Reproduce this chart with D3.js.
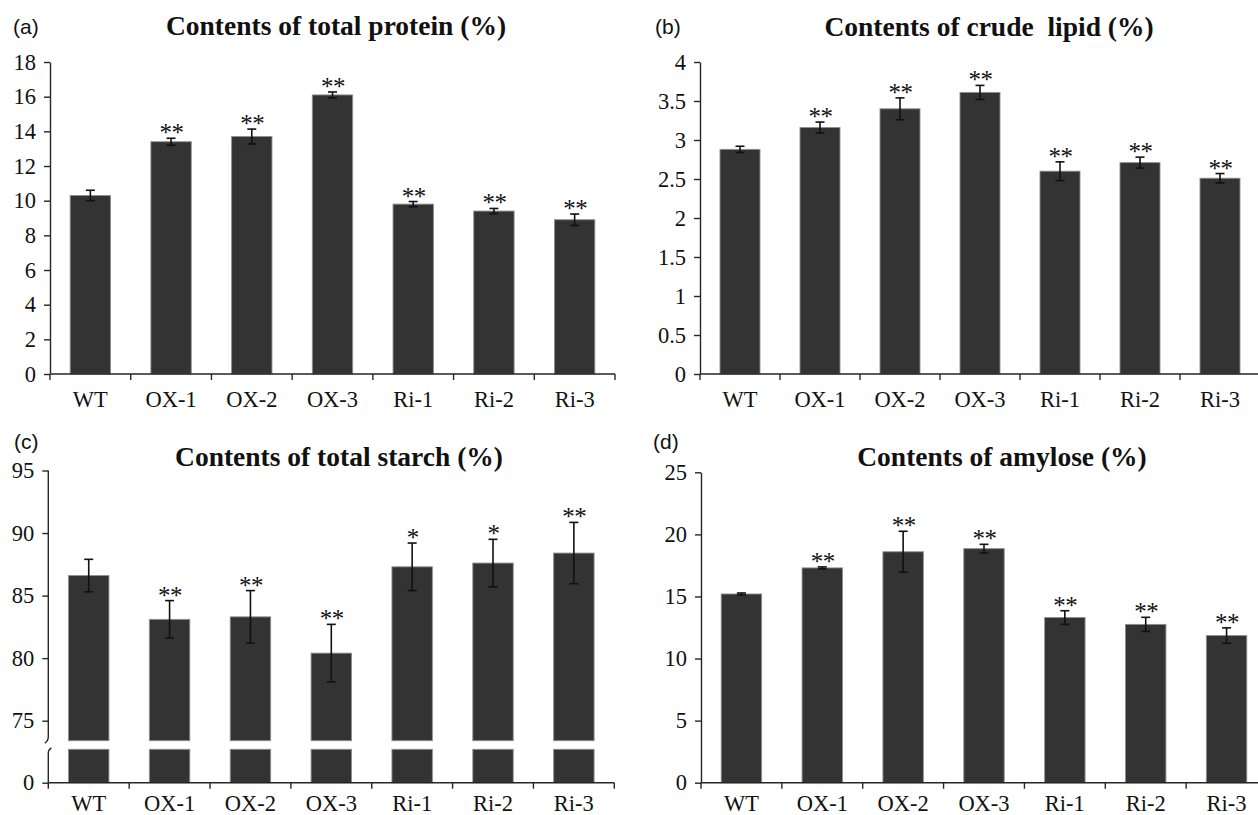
<!DOCTYPE html>
<html>
<head>
<meta charset="utf-8">
<script src="https://cdn.jsdelivr.net/npm/d3@7"></script>
<style>
  body { margin: 0; background: #ffffff; }
  svg text { font-family: "Liberation Serif", "Times New Roman", serif; fill: #111; }
  svg text.panel-tag { font-family: "Liberation Sans", Arial, sans-serif; }
</style>
</head>
<body>
<svg id="fig" width="1258" height="815"></svg>
<script>
// Lines: wild type, over-expression and RNAi lines
const categories = ["WT", "OX-1", "OX-2", "OX-3", "Ri-1", "Ri-2", "Ri-3"];

// (a) total protein (%)
const proteinMean = [10.3, 13.4, 13.7, 16.1, 9.8, 9.4, 8.9];
const proteinErr  = [0.3, 0.2, 0.43, 0.17, 0.15, 0.15, 0.33];
const proteinSig  = ["", "**", "**", "**", "**", "**", "**"];
const proteinTicks = [0, 2, 4, 6, 8, 10, 12, 14, 16, 18];

// (b) crude lipid (%)
const lipidMean = [2.88, 3.16, 3.40, 3.61, 2.60, 2.71, 2.51];
const lipidErr  = [0.04, 0.07, 0.14, 0.09, 0.12, 0.07, 0.06];
const lipidSig  = ["", "**", "**", "**", "**", "**", "**"];
const lipidTicks = [0, 0.5, 1, 1.5, 2, 2.5, 3, 3.5, 4];

// (c) total starch (%), broken axis
const starchMean = [86.6, 83.1, 83.3, 80.4, 87.3, 87.6, 88.4];
const starchErr  = [1.3, 1.5, 2.1, 2.3, 1.9, 1.9, 2.45];
const starchSig  = ["", "**", "**", "**", "*", "*", "**"];
const starchTicks = [75, 80, 85, 90, 95];
const starchLowTicks = [0];

// (d) amylose (%)
const amyloseMean = [15.2, 17.3, 18.6, 18.85, 13.3, 12.75, 11.85];
const amyloseErr  = [0.08, 0.08, 1.65, 0.35, 0.55, 0.57, 0.62];
const amyloseSig  = ["", "**", "**", "**", "**", "**", "**"];
const amyloseTicks = [0, 5, 10, 15, 20, 25];

const svg = d3.select("#fig");
const SERIF = '"Liberation Serif", "Times New Roman", serif';
const SANS = '"Liberation Sans", Arial, sans-serif';
const BAR = "#333333", BAR_EDGE = "#8e8e8e", AXIS = "#262626", ERR = "#111111";
const TICK_FONT = 22.5, TITLE_FONT = 27.5, STAR_FONT = 25;

function bandScale(x0, x1) {
  return d3.scaleBand().domain(categories).range([x0, x1]).paddingInner(0.5).paddingOuter(0.25);
}

function xAxis(g, x, y0, x0, x1, labelDy) {
  g.append("line").attr("x1", x0).attr("x2", x1).attr("y1", y0).attr("y2", y0)
    .attr("stroke", AXIS).attr("stroke-width", 1.4);
  const step = x.step();
  g.selectAll(null).data(d3.range(categories.length + 1)).join("line")
    .attr("x1", i => x0 + i * step).attr("x2", i => x0 + i * step)
    .attr("y1", y0).attr("y2", y0 + 6)
    .attr("stroke", AXIS).attr("stroke-width", 1.4);
  g.selectAll(null).data(categories).join("text")
    .attr("x", d => x(d) + x.bandwidth() / 2).attr("y", y0 + labelDy)
    .attr("text-anchor", "middle").style("font-family", SERIF)
    .style("font-size", TICK_FONT + "px").text(d => d);
}

function yAxis(g, y, x0, ticks, withDomain) {
  const ax = g.append("g").attr("transform", `translate(${x0},0)`)
    .call(d3.axisLeft(y).tickValues(ticks).tickSize(6).tickSizeOuter(0).tickPadding(8)
      .tickFormat(d => String(d)));
  ax.attr("font-family", null).attr("font-size", null);
  ax.select(".domain").attr("stroke", AXIS).attr("stroke-width", 1.4)
    .style("display", withDomain ? null : "none");
  ax.selectAll(".tick line").attr("stroke", AXIS).attr("stroke-width", 1.4);
  ax.selectAll(".tick text").attr("fill", "#111")
    .style("font-family", SERIF).style("font-size", TICK_FONT + "px");
  return ax;
}

function errorBars(g, x, y, mean, err, sig) {
  const cx = d => x(d) + x.bandwidth() / 2;
  const rows = categories.map((c, i) => ({ c, m: mean[i], e: err[i], s: sig[i] }));
  const eg = g.append("g").attr("stroke", ERR).attr("stroke-width", 1.6);
  eg.selectAll(null).data(rows).join("line")
    .attr("x1", d => cx(d.c)).attr("x2", d => cx(d.c))
    .attr("y1", d => y(d.m - d.e)).attr("y2", d => y(d.m + d.e));
  eg.selectAll(null).data(rows.flatMap(d => [
      { c: d.c, v: d.m - d.e }, { c: d.c, v: d.m + d.e }])).join("line")
    .attr("x1", d => cx(d.c) - 4.5).attr("x2", d => cx(d.c) + 4.5)
    .attr("y1", d => y(d.v)).attr("y2", d => y(d.v));
  g.selectAll(null).data(rows.filter(d => d.s)).join("text")
    .attr("x", d => cx(d.c) + 0.5).attr("y", d => y(d.m + d.e) + 3)
    .attr("text-anchor", "middle").style("font-family", SERIF)
    .style("font-size", STAR_FONT + "px").style("letter-spacing", "-0.5px").text(d => d.s);
}

function titles(g, tag, tagX, tagY, title, cx, ty) {
  g.append("text").attr("class", "panel-tag").attr("x", tagX).attr("y", tagY)
    .style("font-family", SANS).style("font-size", "21px").text(tag);
  g.append("text").attr("x", cx).attr("y", ty).attr("text-anchor", "middle")
    .style("font-family", SERIF).style("font-size", TITLE_FONT + "px")
    .style("font-weight", "bold").style("white-space", "pre").text(title);
}

// Plain panel with axis starting at zero
function simplePanel(o) {
  const g = svg.append("g");
  const x = bandScale(o.x0, o.x1);
  const y = d3.scaleLinear().domain([0, o.ticks[o.ticks.length - 1]]).range([o.yBottom, o.yTop]);
  g.selectAll(null).data(categories.map((c, i) => ({ c, v: o.mean[i] }))).join("rect")
    .attr("x", d => x(d.c)).attr("width", x.bandwidth())
    .attr("y", d => y(d.v)).attr("height", d => y(0) - y(d.v))
    .attr("fill", BAR).attr("stroke", BAR_EDGE).attr("stroke-width", 0.9);
  yAxis(g, y, o.x0, o.ticks, true);
  xAxis(g, x, o.yBottom, o.x0, o.x1, o.labelDy);
  errorBars(g, x, y, o.mean, o.err, o.sig);
  titles(g, o.tag, o.tagX, o.tagY, o.title, o.titleX, o.titleY);
}

simplePanel({
  x0: 50, x1: 615, yTop: 62, yBottom: 374, ticks: proteinTicks, labelDy: 33,
  mean: proteinMean, err: proteinErr, sig: proteinSig,
  tag: "(a)", tagX: 13, tagY: 34, title: "Contents of total protein (%)", titleX: 336, titleY: 35
});

simplePanel({
  x0: 700, x1: 1260, yTop: 62, yBottom: 374, ticks: lipidTicks, labelDy: 33,
  mean: lipidMean, err: lipidErr, sig: lipidSig,
  tag: "(b)", tagX: 655, tagY: 34, title: "Contents of crude  lipid (%)", titleX: 989, titleY: 36
});

simplePanel({
  x0: 701, x1: 1267, yTop: 472.3, yBottom: 782.7, ticks: amyloseTicks, labelDy: 28,
  mean: amyloseMean, err: amyloseErr, sig: amyloseSig,
  tag: "(d)", tagX: 653, tagY: 449, title: "Contents of amylose (%)", titleX: 1002, titleY: 466
});

// (c) broken axis: upper segment 73.4–95, short stub down to zero
(function starchPanel() {
  const g = svg.append("g");
  const x0 = 48.3, x1 = 614.3;
  const breakHi = 740.7, breakLo = 749.3, yZero = 782.7;
  const x = bandScale(x0, x1);
  const yUp = d3.scaleLinear().domain([73.4, 95]).range([breakHi, 470.5]);
  const yLow = d3.scaleLinear().domain([0, 2.7]).range([yZero, breakLo]);
  const rows = categories.map((c, i) => ({ c, v: starchMean[i] }));

  g.selectAll(null).data(rows).join("rect")
    .attr("x", d => x(d.c)).attr("width", x.bandwidth())
    .attr("y", d => yUp(d.v)).attr("height", d => yUp(yUp.domain()[0]) - yUp(d.v))
    .attr("fill", BAR).attr("stroke", BAR_EDGE).attr("stroke-width", 0.9);
  g.selectAll(null).data(rows).join("rect")
    .attr("x", d => x(d.c)).attr("width", x.bandwidth())
    .attr("y", yLow(yLow.domain()[1])).attr("height", yLow(0) - yLow(yLow.domain()[1]))
    .attr("fill", BAR).attr("stroke", BAR_EDGE).attr("stroke-width", 0.9);

  yAxis(g, yUp, x0, starchTicks, false);
  yAxis(g, yLow, x0, starchLowTicks, false);

  // axis line with break marks
  g.append("path")
    .attr("d", `M${x0},${yUp(95)} L${x0},${breakHi - 4} Q${x0},${breakHi} ${x0 - 3.5},${breakHi + 2.5}`)
    .attr("fill", "none").attr("stroke", AXIS).attr("stroke-width", 1.4);
  g.append("path")
    .attr("d", `M${x0 + 3},${breakLo - 1.5} Q${x0},${breakLo + 0.5} ${x0},${breakLo + 4} L${x0},${yZero}`)
    .attr("fill", "none").attr("stroke", AXIS).attr("stroke-width", 1.4);

  xAxis(g, x, yZero, x0, x1, 28);
  errorBars(g, x, yUp, starchMean, starchErr, starchSig);
  titles(g, "(c)", 14, 449, "Contents of total starch (%)", 339, 466);
})();
</script>
</body>
</html>
